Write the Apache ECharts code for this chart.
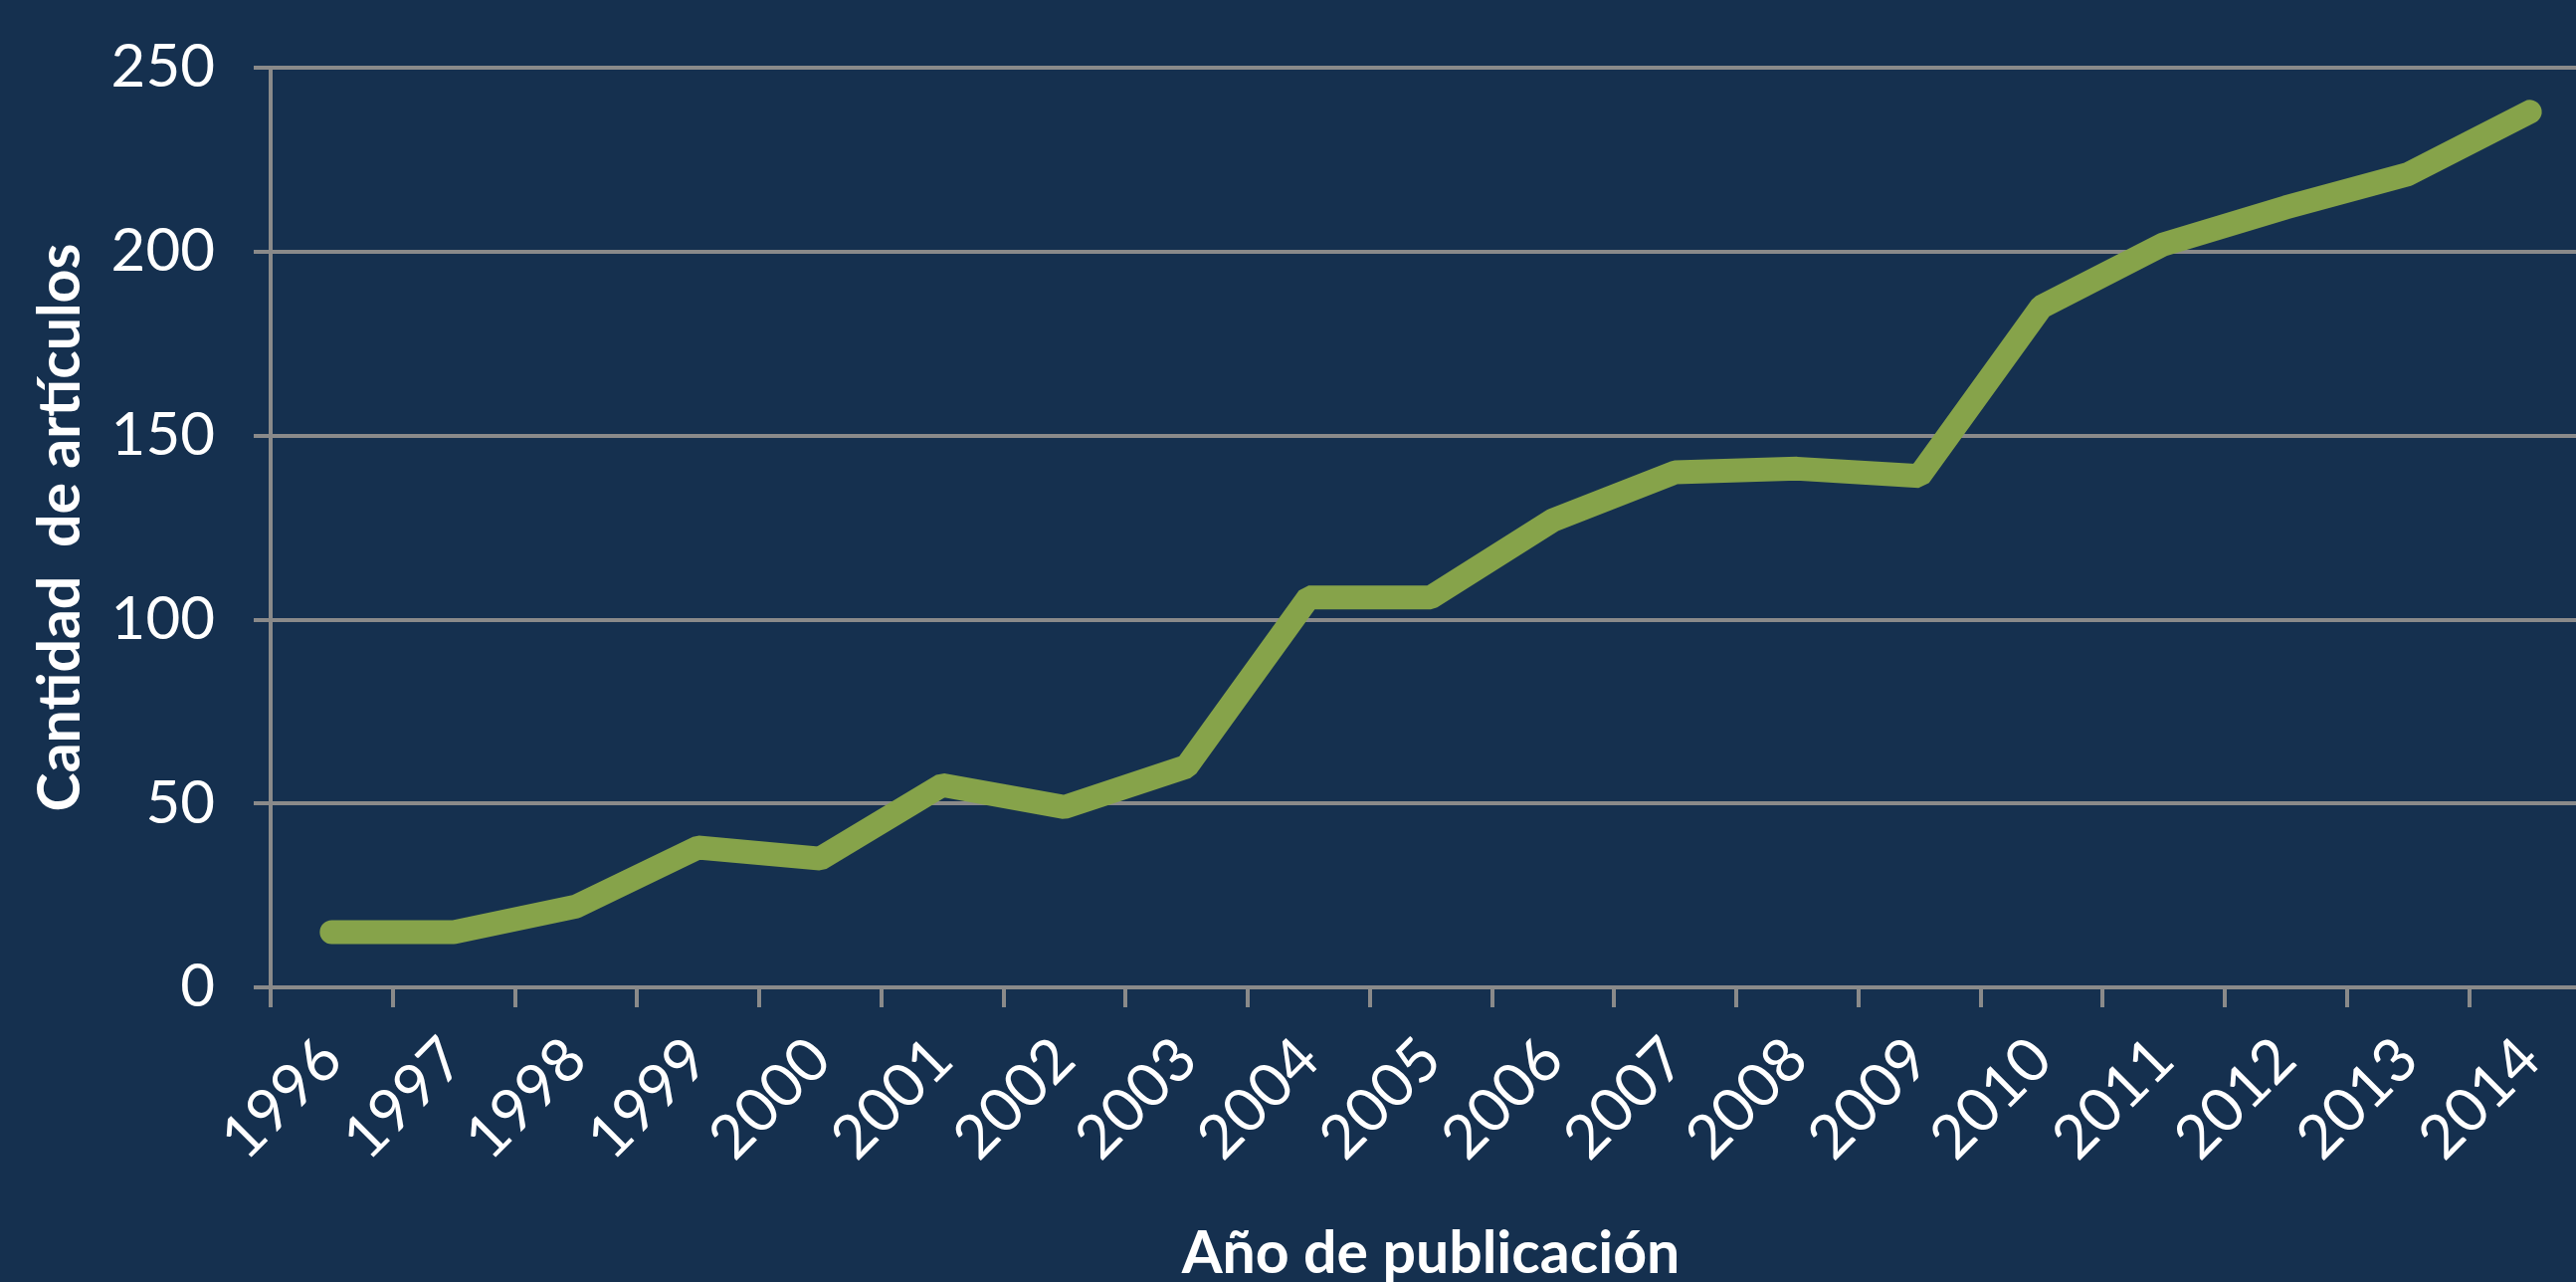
<!DOCTYPE html>
<html>
<head>
<meta charset="utf-8">
<script src="https://cdn.jsdelivr.net/npm/echarts@6/dist/echarts.min.js"></script>
<style>
  html, body { margin: 0; padding: 0; background: #15304f; }
  #chart { width: 2589px; height: 1288px; }
</style>
</head>
<body>
<div id="chart"></div>
<script>
// años de publicación
const years = ["1996", "1997", "1998", "1999", "2000", "2001", "2002", "2003", "2004", "2005",
  "2006", "2007", "2008", "2009", "2010", "2011", "2012", "2013", "2014"];
// cantidad de artículos por año
const articles = [15, 15, 22, 38, 35, 55, 49, 60, 106, 106, 127, 140, 141, 139, 185, 202, 212, 221, 238];
const yTicks = [0, 50, 100, 150, 200, 250];

const chart = echarts.init(document.getElementById("chart"));
const font = "Lato, 'Noto Sans', sans-serif";
const gray = "#8a8a8a";

const option = {
  backgroundColor: "#15304f",
  animation: false,
  grid: {
    left: 272,
    top: 68,
    right: -15,
    bottom: 296,
    containLabel: false,
    outerBoundsMode: "none"
  },
  xAxis: {
    type: "category",
    data: years,
    boundaryGap: true,
    name: "Año de publicación",
    nameLocation: "middle",
    nameGap: 238,
    nameTextStyle: { color: "#fff", fontSize: 59, fontWeight: "bold", fontFamily: font },
    axisLine: { lineStyle: { color: gray, width: 4 } },
    axisTick: { show: true, length: 20, lineStyle: { color: gray, width: 4 } },
    axisLabel: { color: "#fff", fontSize: 61, fontFamily: font, rotate: 45, margin: 62 },
    splitLine: { show: false }
  },
  yAxis: {
    type: "value",
    min: yTicks[0],
    max: yTicks[yTicks.length - 1],
    interval: 50,
    name: "Cantidad  de artículos",
    nameLocation: "middle",
    nameGap: 182,
    nameTextStyle: { color: "#fff", fontSize: 59, fontWeight: "bold", fontFamily: font },
    axisLine: { show: true, lineStyle: { color: gray, width: 4 } },
    axisTick: { show: true, length: 17, lineStyle: { color: gray, width: 4 } },
    axisLabel: { color: "#fff", fontSize: 60, fontFamily: font, margin: 56 },
    splitLine: { show: true, lineStyle: { color: gray, width: 4 } }
  },
  series: [{
    type: "line",
    data: articles,
    symbol: "none",
    lineStyle: { color: "#86a34a", width: 24, cap: "round", join: "bevel" }
  }]
};
chart.setOption(option);
</script>
</body>
</html>
